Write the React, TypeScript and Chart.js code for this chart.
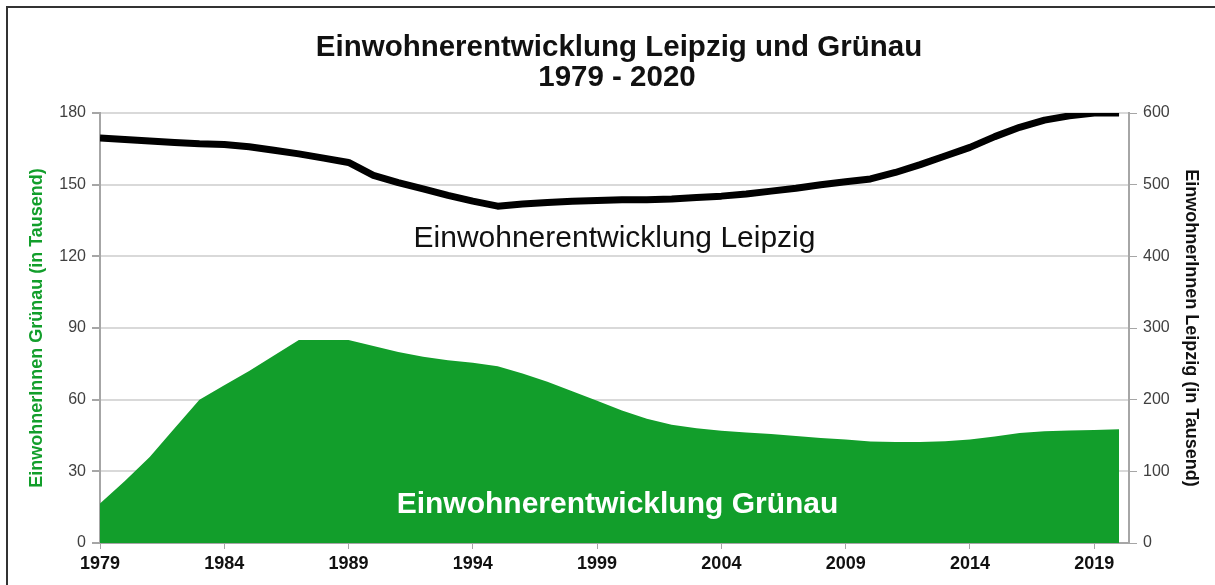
import React, { useEffect, useRef } from "react";
import { Chart, registerables } from "chart.js";

Chart.register(...registerables);

const YEARS = [
  1979, 1980, 1981, 1982, 1983, 1984, 1985, 1986, 1987, 1988, 1989, 1990, 1991, 1992,
  1993, 1994, 1995, 1996, 1997, 1998, 1999, 2000, 2001, 2002, 2003, 2004, 2005, 2006,
  2007, 2008, 2009, 2010, 2011, 2012, 2013, 2014, 2015, 2016, 2017, 2018, 2019, 2020,
];

// Einwohner Grünau (in Tausend), left axis
const GRUENAU = [
  16.5, 26, 36, 48, 60, 66, 72, 78.5, 85, 85, 85, 82.5, 80, 78,
  76.5, 75.5, 74, 71, 67.5, 63.5, 59.5, 55.5, 52, 49.5, 48, 47, 46.3, 45.6,
  44.8, 44, 43.3, 42.5, 42.3, 42.3, 42.6, 43.3, 44.6, 46, 46.8, 47.1, 47.3, 47.6,
];

// Einwohner Leipzig (in Tausend), right axis
const LEIPZIG = [
  565, 563, 561, 559, 557, 556, 553, 548, 543, 537, 531, 513, 503, 494,
  485, 477, 470, 473, 475, 477, 478, 479, 479, 480, 482, 484, 487, 491,
  495, 500, 504, 508, 517, 528, 540, 552, 567, 580, 590, 596, 600, 600,
];

const X_TICKS = [1979, 1984, 1989, 1994, 1999, 2004, 2009, 2014, 2019];

const TITLE_LINES = ["Einwohnerentwicklung Leipzig und Grünau", "1979 - 2020"];
const LABEL_LEIPZIG = "Einwohnerentwicklung Leipzig";
const LABEL_GRUENAU = "Einwohnerentwicklung Grünau";
const AXIS_LEFT_TITLE = "EinwohnerInnen Grünau (in Tausend)";
const AXIS_RIGHT_TITLE = "EinwohnerInnen Leipzig (in Tausend)";

const GREEN = "#129E2B";
const FONT = "'Liberation Sans', Arial, sans-serif";

const decorPlugin = {
  id: "decor",
  beforeDraw(chart: any) {
    const ctx = chart.ctx;
    ctx.save();
    ctx.fillStyle = "#ffffff";
    ctx.fillRect(0, 0, chart.width, chart.height);
    ctx.restore();
  },
  afterDraw(chart: any) {
    const ctx = chart.ctx;
    const area = chart.chartArea;
    ctx.save();
    // frame
    ctx.strokeStyle = "#333333";
    ctx.lineWidth = 2;
    ctx.beginPath();
    ctx.moveTo(7, chart.height);
    ctx.lineTo(7, 7);
    ctx.lineTo(chart.width, 7);
    ctx.stroke();
    // title
    ctx.fillStyle = "#111111";
    ctx.textAlign = "center";
    ctx.textBaseline = "alphabetic";
    ctx.font = `bold 29.5px ${FONT}`;
    ctx.fillText(TITLE_LINES[0], 619, 56);
    ctx.fillText(TITLE_LINES[1], 617, 86);
    // series labels
    const cx = (area.left + area.right) / 2;
    ctx.font = `30px ${FONT}`;
    ctx.fillStyle = "#111111";
    ctx.fillText(LABEL_LEIPZIG, cx, 247);
    ctx.font = `bold 30px ${FONT}`;
    ctx.fillStyle = "#ffffff";
    ctx.fillText(LABEL_GRUENAU, cx + 3, 513);
    ctx.restore();
  },
};

export default function App() {
  const ref = useRef<HTMLCanvasElement | null>(null);

  useEffect(() => {
    if (!ref.current) return;
    const chart = new Chart(ref.current, {
      type: "line",
      data: {
        datasets: [
          {
            label: "Leipzig",
            data: YEARS.map((y, i) => ({ x: y, y: LEIPZIG[i] })),
            yAxisID: "y1",
            borderColor: "#000000",
            borderWidth: 7,
            pointRadius: 0,
            tension: 0,
            fill: false,
            borderCapStyle: "butt",
            borderJoinStyle: "round",
          },
          {
            label: "Grünau",
            data: YEARS.map((y, i) => ({ x: y, y: GRUENAU[i] })),
            yAxisID: "y",
            borderWidth: 0,
            borderColor: GREEN,
            backgroundColor: GREEN,
            pointRadius: 0,
            tension: 0,
            fill: "origin",
          },
        ],
      },
      options: {
        animation: false,
        responsive: false,
        maintainAspectRatio: false,
        layout: { padding: { left: 10, right: 5, top: 113, bottom: 0 } },
        plugins: {
          legend: { display: false },
          tooltip: { enabled: false },
          title: { display: false },
        },
        scales: {
          x: {
            type: "linear",
            min: 1979,
            max: 2020.4,
            afterBuildTicks: (scale: any) => {
              scale.ticks = X_TICKS.map((v) => ({ value: v }));
            },
            afterFit: (scale: any) => {
              scale.height = 42;
            },
            ticks: {
              callback: (v: any) => String(v),
              color: "#111111",
              font: { family: FONT, size: 18, weight: "bold" },
              padding: 4,
              maxRotation: 0,
              autoSkip: false,
            },
            grid: {
              drawOnChartArea: false,
              drawTicks: true,
              tickLength: 6,
              color: "#a6a6a6",
            },
            border: { color: "#a6a6a6", width: 2 },
          },
          y: {
            position: "left",
            min: 0,
            max: 180,
            afterFit: (scale: any) => {
              scale.width = 90;
            },
            ticks: {
              stepSize: 30,
              color: "#404040",
              font: { family: FONT, size: 16 },
              padding: 6,
            },
            grid: {
              color: "#d9d9d9",
              lineWidth: 2,
              tickLength: 8,
              tickColor: "#a6a6a6",
            },
            border: { color: "#a6a6a6", width: 2 },
            title: {
              display: true,
              text: AXIS_LEFT_TITLE,
              color: GREEN,
              font: { family: FONT, size: 18, weight: "bold" },
              padding: { top: 16, bottom: 0 },
            },
          },
          y1: {
            position: "right",
            min: 0,
            max: 600,
            afterFit: (scale: any) => {
              scale.width = 81;
            },
            ticks: {
              stepSize: 100,
              color: "#404040",
              font: { family: FONT, size: 16 },
              padding: 6,
            },
            grid: {
              drawOnChartArea: false,
              tickLength: 8,
              color: "#a6a6a6",
            },
            border: { color: "#a6a6a6", width: 2 },
            title: {
              display: true,
              text: AXIS_RIGHT_TITLE,
              color: "#111111",
              font: { family: FONT, size: 18, weight: "bold" },
              padding: { top: 8, bottom: 0 },
            },
          },
        },
      },
      plugins: [decorPlugin],
    } as any);
    return () => chart.destroy();
  }, []);

  return (
    <div style={{ position: "absolute", left: 0, top: 0, width: 1215, height: 585 }}>
      <canvas ref={ref} width={1215} height={585} />
    </div>
  );
}
